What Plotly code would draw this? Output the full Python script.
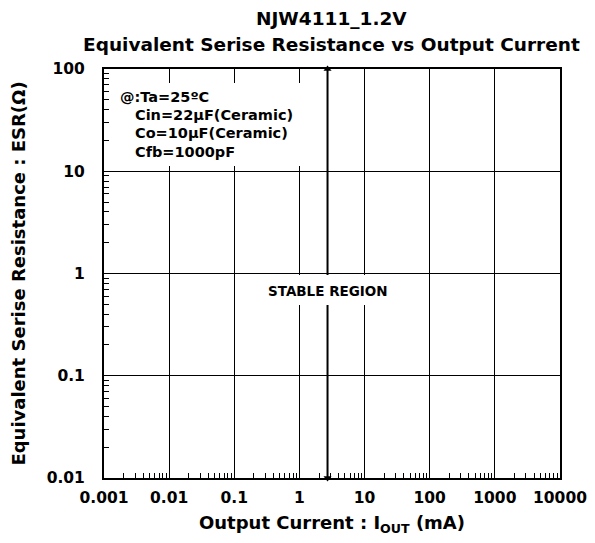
import plotly.graph_objects as go

# ---- data ----
x_tick_vals = [0.001, 0.01, 0.1, 1, 10, 100, 1000, 10000]
x_tick_text = ["0.001", "0.01", "0.1", "1", "10", "100", "1000", "10000"]
y_tick_vals = [0.01, 0.1, 1, 10, 100]
y_tick_text = ["0.01", "0.1", "1", "10", "100"]
arrow_current = [2.7, 2.7]          # mA, vertical boundary arrow
arrow_esr = [0.01, 100]             # ohm, spans full ESR range
title_lines = ["NJW4111_1.2V", "Equivalent Serise Resistance vs Output Current"]
cond_lines = ["@:Ta=25ºC", "Cin=22µF(Ceramic)", "Co=10µF(Ceramic)", "Cfb=1000pF"]
region_label = "STABLE REGION"

FONT = "DejaVu Sans"
OFF = 8                      # default page body margin
W, H = 595 - OFF, 543 - OFF
L, R, T, B = 104 - OFF, 35, 69 - OFF, 65
PW, PH = W - L - R, H - T - B

def xp(px):
    # page pixel -> paper coordinate
    return (px - OFF - L) / PW

def yp(py):
    return (H - B - (py - OFF)) / PH

def minor_vals(majors):
    out = []
    for m in majors[:-1]:
        for k in range(2, 10):
            out.append(m * k)
    return out

fig = go.Figure()
fig.add_trace(go.Scatter(x=arrow_current, y=arrow_esr, mode="lines",
                         line=dict(color="black", width=2), showlegend=False,
                         hoverinfo="skip", cliponaxis=False))
fig.add_trace(go.Scatter(x=arrow_current, y=arrow_esr, mode="markers",
                         marker=dict(symbol=["triangle-down", "triangle-up"], size=7,
                                     color="black"),
                         showlegend=False, hoverinfo="skip", cliponaxis=False))

axis_common = dict(
    type="log", showgrid=True, gridcolor="black", gridwidth=1,
    showline=True, linecolor="black", linewidth=2, mirror=True,
    ticks="", tickfont=dict(family=FONT, size=15.5, color="black", weight="bold"),
    tickmode="array",
)
fig.update_xaxes(**axis_common, range=[-3, 4], tickvals=x_tick_vals, ticktext=x_tick_text,
                 minor=dict(ticks="inside", ticklen=5, tickwidth=1, tickcolor="black",
                            showgrid=False, tickvals=minor_vals(x_tick_vals)),
                 ticklabelstandoff=4,
                 title=dict(text="Output Current : I<sub>OUT</sub> (mA)",
                            font=dict(family=FONT, size=18, color="black", weight="bold"),
                            standoff=11))
fig.update_yaxes(**axis_common, range=[-2, 2], tickvals=y_tick_vals, ticktext=y_tick_text,
                 minor=dict(ticks="inside", ticklen=5, tickwidth=1, tickcolor="black",
                            showgrid=False, tickvals=minor_vals(y_tick_vals)),
                 ticklabelstandoff=14,
                 title=dict(text="Equivalent Serise Resistance : ESR(Ω)",
                            font=dict(family=FONT, size=18, color="black", weight="bold"),
                            standoff=16))

shapes = [
    dict(type="rect", xref="paper", yref="paper", x0=xp(110), x1=xp(302),
         y0=yp(166), y1=yp(83), fillcolor="white", line=dict(width=0), layer="above"),
    dict(type="rect", xref="paper", yref="paper", x0=xp(252), x1=xp(403),
         y0=yp(305), y1=yp(275), fillcolor="white", line=dict(width=0), layer="above"),
]

ann = []
title_y = [18.5, 45]
for txt, py in zip(title_lines, title_y):
    ann.append(dict(text=txt, xref="paper", yref="paper", x=xp(331), y=yp(py),
                    xanchor="center", yanchor="middle", showarrow=False,
                    font=dict(family=FONT, size=18.5, color="black", weight="bold")))
cond_x = [118, 133, 133, 133]
cond_y = [96.7, 115, 133.3, 151.7]
for txt, px, py in zip(cond_lines, cond_x, cond_y):
    ann.append(dict(text=txt, xref="paper", yref="paper", x=xp(px), y=yp(py),
                    xanchor="left", yanchor="middle", showarrow=False,
                    font=dict(family=FONT, size=14.5, color="black", weight="bold")))
ann.append(dict(text=region_label, xref="x", yref="paper", x=0.4314, y=yp(291),
                xanchor="center", yanchor="middle", showarrow=False,
                font=dict(family=FONT, size=13.5, color="black", weight="bold")))

fig.update_layout(width=W, height=H, margin=dict(l=L, r=R, t=T, b=B, autoexpand=False),
                  paper_bgcolor="white", plot_bgcolor="white",
                  shapes=shapes, annotations=ann, showlegend=False)

fig.write_html("out.html")
